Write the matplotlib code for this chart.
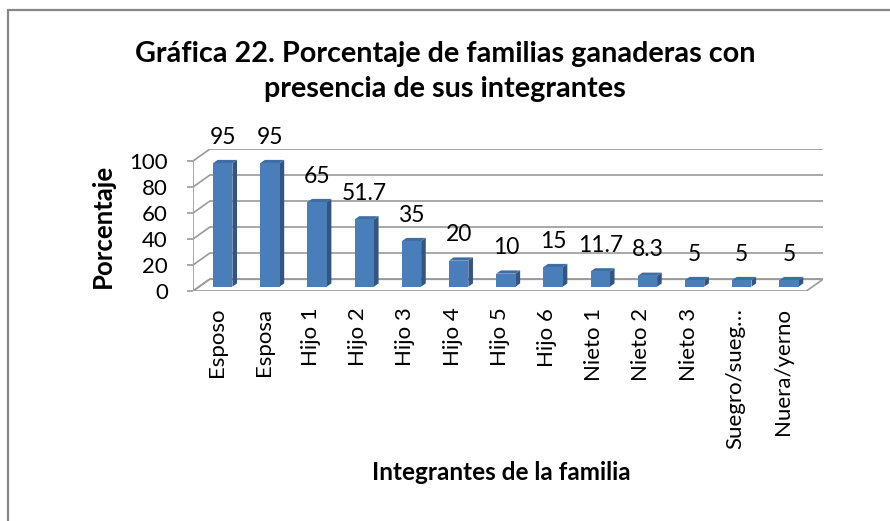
import matplotlib
matplotlib.use("Agg")
import matplotlib.pyplot as plt
from matplotlib.patches import Polygon, Rectangle
import numpy as np

plt.rcParams['font.family'] = ['Lato', 'DejaVu Sans']

categories = ["Esposo", "Esposa", "Hijo 1", "Hijo 2", "Hijo 3", "Hijo 4", "Hijo 5",
              "Hijo 6", "Nieto 1", "Nieto 2", "Nieto 3", "Suegro/sueg\u2026", "Nuera/yerno"]
values = [95, 95, 65, 51.7, 35, 20, 10, 15, 11.7, 8.3, 5, 5, 5]
value_labels = ["95", "95", "65", "51.7", "35", "20", "10", "15", "11.7", "8.3", "5", "5", "5"]
yticks = [0, 20, 40, 60, 80, 100]

title_line1 = "Gráfica 22. Porcentaje de familias ganaderas con"
title_line2 = "presencia de sus integrantes"
ylabel = "Porcentaje"
xlabel = "Integrantes de la familia"

W, H = 890, 521
fig = plt.figure(figsize=(W / 100, H / 100), dpi=100)

# outer chart frame (only top/left visible in reference)
fig.patches.append(Rectangle((8 / W, -0.1), 1.2, 1 - 10 / H + 0.1, transform=fig.transFigure,
                             fill=False, edgecolor='#878787', linewidth=1.6))

n = len(categories)
ddx, ddy = 0.35, 9.0          # depth offset (category units, value units)
left_px, right_px = 193, 823
bot_px = 291
ymax = 100 + ddy
top_px = bot_px - ymax * 1.3
ax = fig.add_axes([left_px / W, 1 - bot_px / H, (right_px - left_px) / W, (bot_px - top_px) / H])
ax.set_xlim(0, n + ddx)
ax.set_ylim(0, ymax)
ax.set_facecolor('none')
for s in ax.spines.values():
    s.set_visible(False)

grid_c = '#9a9a9a'
# floor
ax.add_patch(Polygon([(0, 0), (n, 0), (n + ddx, ddy), (ddx, ddy)], closed=True,
                     facecolor='white', edgecolor=grid_c, linewidth=1.2, zorder=1))
# back wall gridlines and side diagonals
for v in yticks:
    ax.plot([ddx, n + ddx], [v + ddy, v + ddy], color=grid_c, lw=1.2, zorder=1, solid_capstyle='butt')
    ax.plot([0, ddx], [v, v + ddy], color=grid_c, lw=1.2, zorder=1)
# front vertical axis
ax.plot([0, 0], [0, 100], color=grid_c, lw=1.2, zorder=1)

# bars
bw = 0.41
f = 0.37
sd = 0.28
front_c, side_c, top_c = '#4A7EBB', '#33557F', '#3F6DA6'
for i, v in enumerate(values):
    x0 = i + 0.5 - bw / 2 + f * ddx
    y0 = f * ddy
    sx, sy = sd * ddx, sd * ddy
    ax.add_patch(Polygon([(x0 + bw, y0), (x0 + bw + sx, y0 + sy), (x0 + bw + sx, y0 + v + sy),
                          (x0 + bw, y0 + v)], closed=True, facecolor=side_c, edgecolor='none', zorder=3))
    ax.add_patch(Polygon([(x0, y0 + v), (x0 + bw, y0 + v), (x0 + bw + sx, y0 + v + sy),
                          (x0 + sx, y0 + v + sy)], closed=True, facecolor=top_c, edgecolor='none', zorder=3))
    ax.add_patch(Rectangle((x0, y0), bw, v, facecolor=front_c, edgecolor='none', zorder=4))
    ax.annotate(value_labels[i], (x0 + bw / 2, y0 + v), xytext=(0, 14), textcoords='offset points',
                ha='center', va='baseline', fontsize=16.5, annotation_clip=False, zorder=5)

ax.set_yticks(yticks)
ax.set_yticklabels([str(t) for t in yticks], fontsize=16)
ax.tick_params(axis='y', length=4, color=grid_c, width=1.2, pad=14)
ax.set_xticks(np.arange(n) + 0.5)
ax.set_xticklabels(categories, rotation=90, fontsize=16, va='top', ha='center')
ax.tick_params(axis='x', length=0, pad=12)

fig.text(0.5, 1 - 61.7 / H, title_line1, ha='center', va='baseline', fontsize=20.7, fontweight='bold')
fig.text(0.5, 1 - 96.7 / H, title_line2, ha='center', va='baseline', fontsize=20.7, fontweight='bold')
fig.text(103 / W, 1 - 226 / H, ylabel, rotation=90, ha='center', va='center', fontsize=18.5,
         fontweight='bold')
fig.text(501 / W, 1 - 473 / H, xlabel, ha='center', va='center', fontsize=17.5, fontweight='bold')

fig.savefig('out.png', dpi=100)
